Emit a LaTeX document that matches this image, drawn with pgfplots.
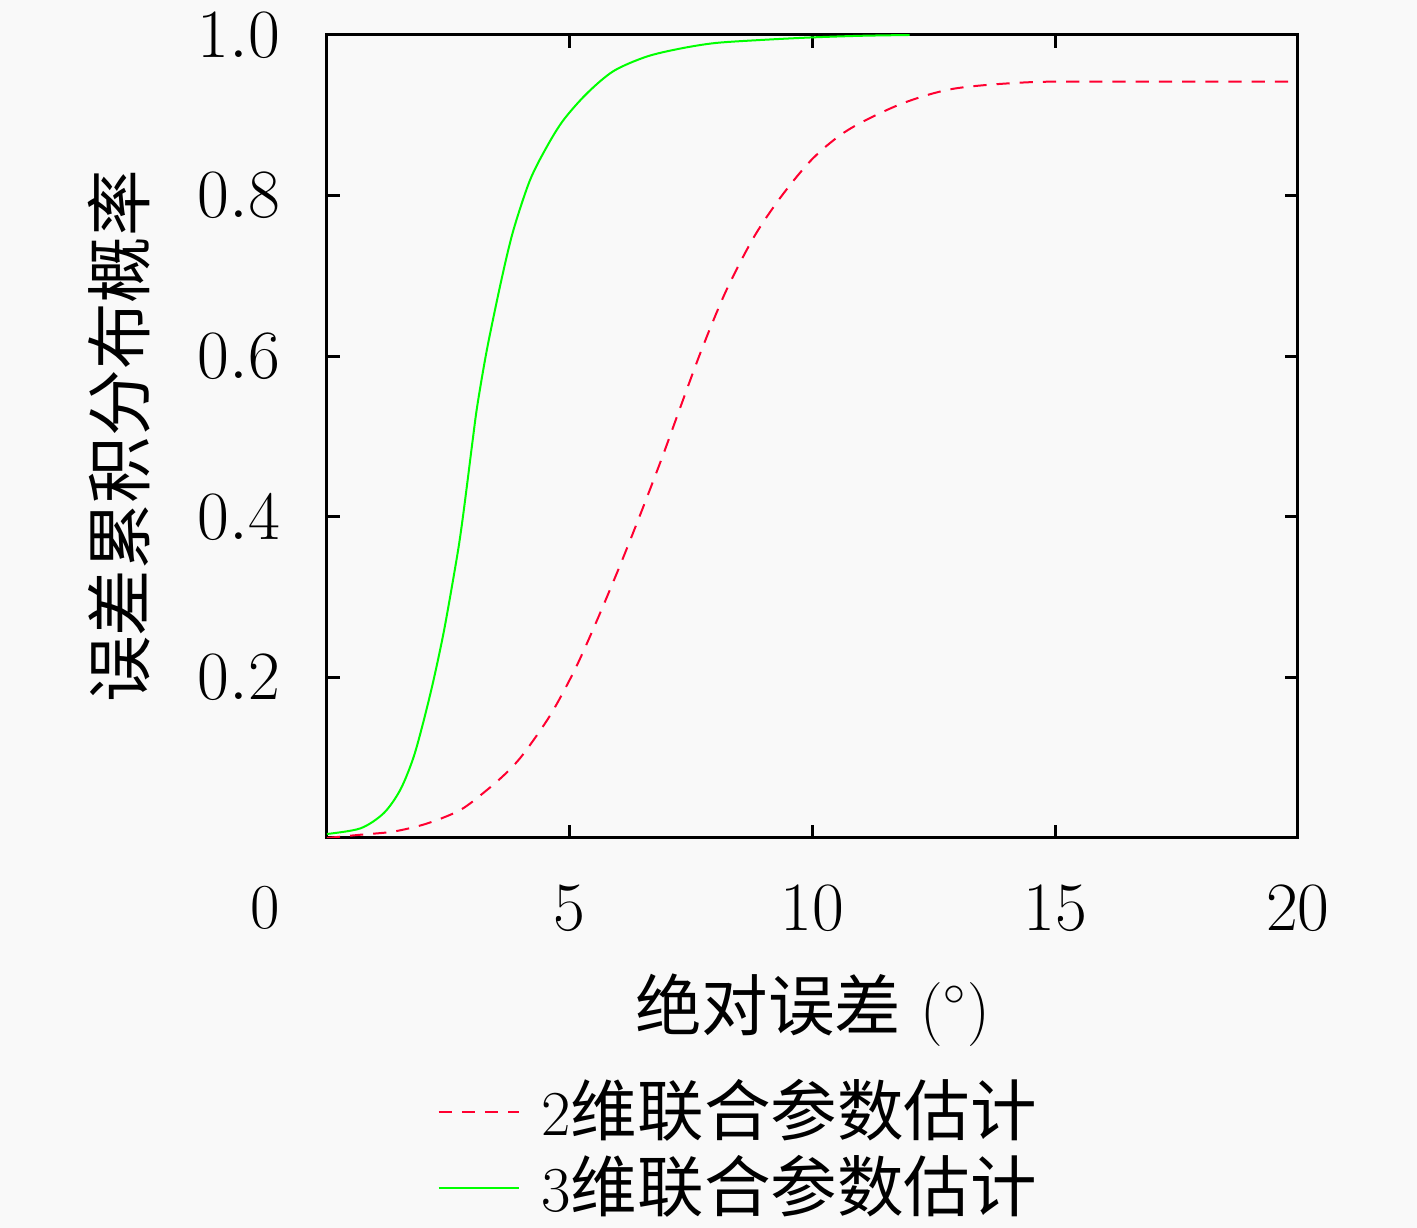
\documentclass[border=0pt]{standalone}
\usepackage{fontspec}
\newfontfamily\cjk[Scale=1.04]{Noto Sans CJK SC}
\usepackage{pgfplots}
\pgfplotsset{compat=1.18}
\definecolor{bg}{RGB}{249,249,249}
\definecolor{cred}{RGB}{255,0,48}
\definecolor{cgreen}{RGB}{0,255,0}
\begin{document}
\fontsize{16}{19}\selectfont
\begin{tikzpicture}
\fill[bg] (-81.75pt,-97.5pt) rectangle (272.5pt,209.5pt);
\useasboundingbox (-81.75pt,-97.5pt) rectangle (272.5pt,209.5pt);
\begin{axis}[at={(0,0)}, anchor=south west, scale only axis,
  width=242.75pt, height=200.75pt,
  xmin=0, xmax=20, ymin=0, ymax=1,
  xtick={5,10,15,20}, ytick={0.2,0.4,0.6,0.8,1.0},
  yticklabel style={/pgf/number format/fixed, /pgf/number format/fixed zerofill, /pgf/number format/precision=1, xshift=-6.25pt},
  tick align=inside, major tick length=3.25pt,
  axis line style={line width=0.75pt},
  every tick/.style={line width=0.75pt, black},
  xticklabel style={yshift=-6.5pt},
  extra x ticks={0}, extra x tick labels={0},
  extra x tick style={major tick length=0pt, xticklabel style={xshift=-15.5pt}},
  ylabel={\cjk 误差累积分布概率},
  every axis y label/.style={at={(axis description cs:-0.2142,0.5)}, rotate=90, anchor=center},
  xlabel={{\cjk 绝对误差} ($^\circ$)},
  every axis x label/.style={at={(axis description cs:0.5,-0.2142)}, anchor=center},
  legend style={at={(axis description cs:0.1007,-0.3886)}, anchor=west, draw=none, fill=none,
    nodes={inner sep=1.5pt}, row sep=-0.5pt},
  legend cell align=left,
  legend image code/.code={\draw[#1] (0pt,0pt) -- (20pt,0pt); \path (24pt,0pt);},
]
\addplot[cred, line width=0.5pt, dash pattern=on 3.3pt off 2.5pt, smooth] coordinates {
(0,0.0) (0.68,0.004) (1.37,0.008) (2.06,0.018) (2.75,0.035) (3.3,0.06) (3.71,0.082) (4.05,0.105)
(4.6,0.153) (5.1,0.209) (5.54,0.268) (6.04,0.34) (6.48,0.407) (6.91,0.475)
(7.27,0.535) (7.71,0.607) (8.21,0.68) (8.79,0.748) (9.37,0.8) (10.02,0.847) (10.74,0.882)
(11.82,0.914) (12.9,0.933) (14.4,0.941) (16,0.942) (20,0.942)};
\addlegendentry{2{\cjk 维联合参数估计}}
\addplot[cgreen, line width=0.5pt, smooth] coordinates {
(0,0.005) (0.69,0.012) (1.17,0.031) (1.51,0.06) (1.78,0.10) (2.0,0.148) (2.2,0.198)
(2.4,0.255) (2.57,0.312) (2.71,0.362) (2.8,0.40) (2.9,0.447) (3.0,0.495) (3.1,0.54)
(3.3,0.61) (3.6,0.697) (3.84,0.757) (4.18,0.819) (4.53,0.861) (4.87,0.894) (5.35,0.927)
(5.9,0.955) (6.58,0.973) (7.27,0.983) (8.0,0.99) (9.0,0.994) (10.0,0.997) (11.0,0.999) (12.0,1.0)};
\addlegendentry{3{\cjk 维联合参数估计}}
\end{axis}
\end{tikzpicture}
\end{document}
